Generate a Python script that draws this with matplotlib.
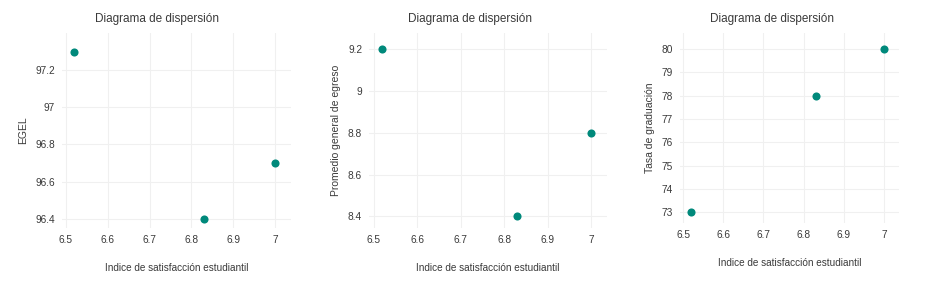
import matplotlib
import matplotlib.pyplot as plt

matplotlib.use("Agg")

plt.rcParams['font.family'] = ['Liberation Sans', 'DejaVu Sans']

# Data
satisfaccion = [6.52, 6.83, 7.0]
egel = [97.3, 96.4, 96.7]
promedio = [9.2, 8.4, 8.8]
tasa = [73, 78, 80]

xticks = [6.5, 6.6, 6.7, 6.8, 6.9, 7.0]
xtick_labels = ["6.5", "6.6", "6.7", "6.8", "6.9", "7"]

W, H = 926, 281
fig = plt.figure(figsize=(W / 100, H / 100), dpi=100)
fig.patch.set_facecolor("white")

text_color = "#3a3a3a"
grid_color = "#f0f0f0"
dot_color = "#00897b"

# (left, right, top, bottom) in pixels, xlim, ylim, y values, yticks, ylabels, ylabel, title x
panels = [
    ((62, 291, 33, 228), (6.4905, 7.038), (96.35, 97.40), egel,
     [96.4, 96.6, 96.8, 97.0, 97.2], ["96.4", "96.6", "96.8", "97", "97.2"], "EGEL", 0.415),
    ((369, 607, 33, 228), (6.489, 7.037), (8.345, 9.276), promedio,
     [8.4, 8.6, 8.8, 9.0, 9.2], ["8.4", "8.6", "8.8", "9", "9.2"], "Promedio general de egreso", 0.424),
    ((680, 899, 33, 223), (6.4925, 7.037), (72.55, 80.68), tasa,
     list(range(73, 81)), [str(v) for v in range(73, 81)], "Tasa de graduación", 0.42),
]

for (l, r, t, b), xlim, ylim, yvals, yticks, ylabels, ylabel, tx in panels:
    ax = fig.add_axes([l / W, 1 - b / H, (r - l) / W, (b - t) / H])
    ax.scatter(satisfaccion, yvals, s=34, color=dot_color, zorder=3, linewidths=0)
    ax.set_xlim(*xlim)
    ax.set_ylim(*ylim)
    ax.set_xticks(xticks)
    ax.set_xticklabels(xtick_labels)
    ax.set_yticks(yticks)
    ax.set_yticklabels(ylabels)
    ax.grid(True, color=grid_color, linewidth=0.8)
    ax.set_axisbelow(True)
    for s in ax.spines.values():
        s.set_visible(False)
    ax.tick_params(length=0, labelsize=7.3, colors=text_color, pad=5)
    ax.set_title("Diagrama de dispersión", fontsize=8.5, color=text_color, pad=8, x=tx)
    ax.set_xlabel("Indice de satisfacción estudiantil", fontsize=7.2, color=text_color, labelpad=13)
    ax.set_ylabel(ylabel, fontsize=7.5, color=text_color, labelpad=5)

plt.savefig("out.png", dpi=100, facecolor="white")
plt.close()
